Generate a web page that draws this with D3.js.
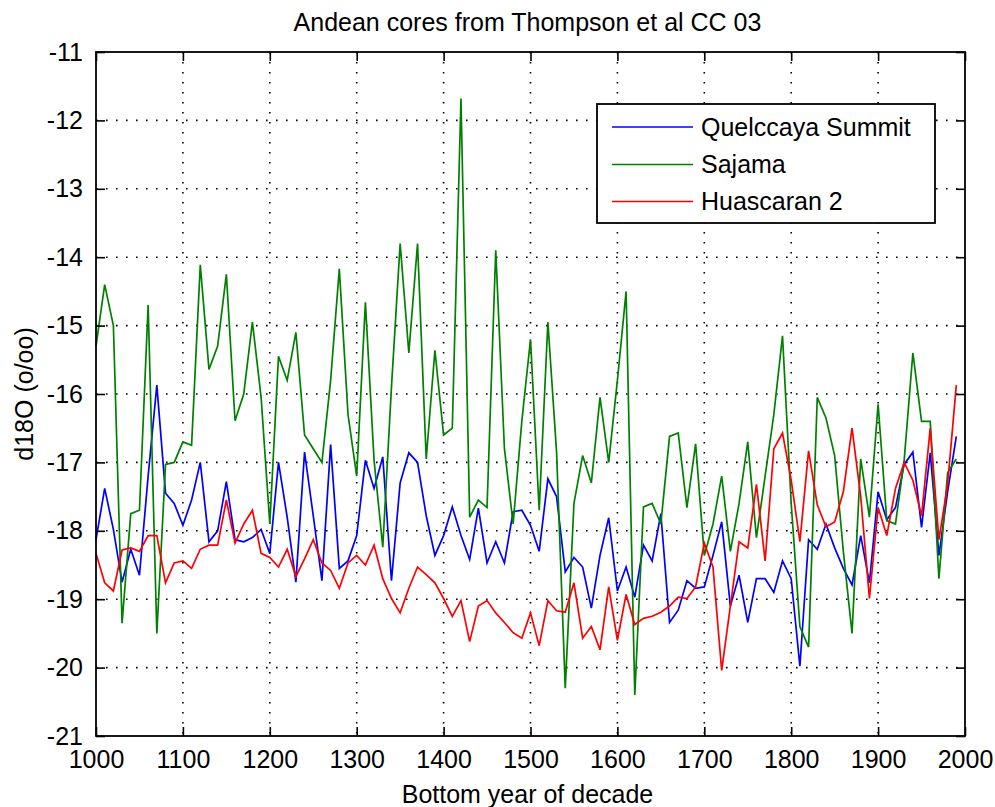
<!DOCTYPE html>
<html>
<head>
<meta charset="utf-8">
<script src="https://cdn.jsdelivr.net/npm/d3@7"></script>
<style>
  html, body { margin: 0; padding: 0; background: #ffffff; }
  svg { display: block; }
  text { font-family: "Liberation Sans", Arial, sans-serif; fill: #000; }
</style>
</head>
<body>
<svg id="chart" width="995" height="807"></svg>
<script>
// Decadal d18O records, one value per decade starting 1000 (bottom year of decade)
const startYear = 1000;
const decadeStep = 10;

const quelccaya = [
  -18.13, -17.38, -17.98, -18.75, -18.27, -18.65, -17.20, -15.87, -17.45, -17.60,
  -17.92, -17.55, -17.00, -18.16, -18.00, -17.28, -18.13, -18.16, -18.10, -17.98,
  -18.33, -17.00, -17.80, -18.75, -16.85, -17.78, -18.73, -16.74, -18.55, -18.44,
  -18.07, -16.97, -17.38, -16.92, -18.73, -17.30, -16.86, -17.00, -17.78, -18.36,
  -18.07, -17.65, -18.07, -18.42, -17.67, -18.47, -18.16, -18.47, -17.72, -17.70,
  -17.92, -18.30, -17.24, -17.50, -18.60, -18.39, -18.53, -19.13, -18.36, -17.81,
  -18.88, -18.53, -18.97, -18.21, -18.44, -17.75, -19.34, -19.16, -18.73, -18.84,
  -18.82, -18.36, -17.87, -19.10, -18.65, -19.34, -18.70, -18.70, -18.90, -18.44,
  -18.70, -19.98, -18.13, -18.27, -17.90, -18.25, -18.55, -18.79, -18.07, -18.76,
  -17.43, -17.84, -17.66, -17.03, -16.85, -17.95, -16.86, -18.36, -17.43, -16.62
];

const sajama = [
  -15.30, -14.40, -15.00, -19.35, -17.75, -17.70, -14.70, -19.50, -17.03, -17.00,
  -16.70, -16.75, -14.11, -15.64, -15.30, -14.25, -16.39, -16.00, -14.95, -16.05,
  -17.90, -15.45, -15.80, -15.10, -16.60, -16.80, -17.00, -15.80, -14.17, -16.30,
  -17.20, -14.66, -16.97, -18.24, -15.90, -13.80, -15.40, -13.80, -16.95, -15.36,
  -16.60, -16.50, -11.68, -17.80, -17.55, -17.66, -13.90, -16.80, -17.90, -16.40,
  -15.20, -17.70, -14.95, -16.85, -20.30, -17.60, -16.90, -17.30, -16.05, -17.00,
  -15.80, -14.50, -20.40, -17.65, -17.60, -17.90, -16.62, -16.57, -17.66, -16.73,
  -18.36, -17.90, -17.20, -18.30, -17.60, -16.70, -18.10, -17.20, -16.30, -15.15,
  -17.60, -19.40, -19.70, -16.05, -16.35, -16.90, -18.30, -19.50, -16.95, -17.80,
  -16.15, -17.85, -17.90, -16.97, -15.40, -16.40, -16.40, -18.70, -17.15, -16.95
];

const huascaran = [
  -18.33, -18.76, -18.88, -18.28, -18.25, -18.30, -18.07, -18.07, -18.76, -18.47,
  -18.44, -18.55, -18.27, -18.21, -18.21, -17.55, -18.18, -17.90, -17.70, -18.33,
  -18.39, -18.53, -18.27, -18.67, -18.41, -18.13, -18.47, -18.58, -18.84, -18.47,
  -18.36, -18.50, -18.21, -18.70, -18.99, -19.20, -18.84, -18.53, -18.64, -18.76,
  -18.99, -19.25, -19.02, -19.62, -19.10, -19.02, -19.20, -19.34, -19.49, -19.57,
  -19.20, -19.68, -19.02, -19.17, -19.19, -18.76, -19.57, -19.40, -19.74, -18.82,
  -19.60, -18.93, -19.37, -19.28, -19.25, -19.19, -19.10, -18.97, -18.99, -18.82,
  -18.18, -18.53, -20.04, -19.10, -18.16, -18.25, -17.32, -18.44, -16.80, -16.57,
  -17.26, -18.16, -16.83, -17.62, -17.94, -17.87, -17.43, -16.50, -17.50, -18.99,
  -17.66, -18.07, -17.38, -17.00, -17.26, -17.78, -16.50, -18.13, -17.32, -15.87
];

const seriesNames = ["Quelccaya Summit", "Sajama", "Huascaran 2"];
const seriesColors = ["#0000ff", "#008000", "#ff0000"];
const seriesValues = [quelccaya, sajama, huascaran];

const xTicks = [1000, 1100, 1200, 1300, 1400, 1500, 1600, 1700, 1800, 1900, 2000];
const yTicks = [-21, -20, -19, -18, -17, -16, -15, -14, -13, -12, -11];

const titleText = "Andean cores from Thompson et al CC 03";
const xLabelText = "Bottom year of decade";
const yLabelText = "d18O (o/oo)";

// Plot box
const plot = { left: 96, right: 965, top: 52, bottom: 736 };

const svg = d3.select("#chart");

const x = d3.scaleLinear().domain([1000, 2000]).range([plot.left, plot.right]);
const y = d3.scaleLinear().domain([-21, -11]).range([plot.bottom, plot.top]);

// Dotted grid
const grid = svg.append("g").attr("class", "grid")
  .attr("stroke", "#000").attr("stroke-width", 1.6)
  .attr("stroke-dasharray", "1.6,8.4");
grid.selectAll("line.v").data(xTicks.slice(1, -1)).join("line")
  .attr("x1", d => x(d)).attr("x2", d => x(d))
  .attr("y1", plot.top).attr("y2", plot.bottom);
grid.selectAll("line.h").data(yTicks.slice(1, -1)).join("line")
  .attr("y1", d => y(d)).attr("y2", d => y(d))
  .attr("x1", plot.left).attr("x2", plot.right);

// Data lines
const line = d3.line()
  .x((d, i) => x(startYear + i * decadeStep))
  .y(d => y(d));

svg.append("g").attr("class", "series")
  .selectAll("path").data(seriesValues).join("path")
  .attr("d", d => line(d))
  .attr("fill", "none")
  .attr("stroke", (d, i) => seriesColors[i])
  .attr("stroke-width", 1.7)
  .attr("stroke-linejoin", "miter");

// Axes with inward ticks on all four sides
const tickLen = 9;
const fontSize = 25;

const axBottom = d3.axisBottom(x).tickValues(xTicks).tickSize(-tickLen).tickPadding(14).tickFormat(d3.format("d"));
const axTop = d3.axisTop(x).tickValues(xTicks).tickSize(-tickLen).tickFormat("");
const axLeft = d3.axisLeft(y).tickValues(yTicks).tickSize(-tickLen).tickPadding(13).tickFormat(d => d3.format("d")(d).replace("\u2212", "-"));
const axRight = d3.axisRight(y).tickValues(yTicks).tickSize(-tickLen).tickFormat("");

function styleAxis(g) {
  g.select(".domain").remove();
  g.selectAll(".tick line").attr("stroke", "#000").attr("stroke-width", 1.6);
  g.selectAll(".tick text").attr("font-size", fontSize)
    .attr("font-family", "'Liberation Sans', Arial, sans-serif").attr("fill", "#000");
}

svg.append("g").attr("transform", `translate(0,${plot.bottom})`).call(axBottom).call(styleAxis);
svg.append("g").attr("transform", `translate(0,${plot.top})`).call(axTop).call(styleAxis);
svg.append("g").attr("transform", `translate(${plot.left},0)`).call(axLeft).call(styleAxis);
svg.append("g").attr("transform", `translate(${plot.right},0)`).call(axRight).call(styleAxis);

// Frame
svg.append("rect")
  .attr("x", plot.left).attr("y", plot.top)
  .attr("width", plot.right - plot.left).attr("height", plot.bottom - plot.top)
  .attr("fill", "none").attr("stroke", "#000").attr("stroke-width", 1.8);

// Title and axis labels
svg.append("text").attr("x", (plot.left + plot.right) / 2 - 3).attr("y", 31)
  .attr("text-anchor", "middle").attr("font-size", fontSize).text(titleText);
svg.append("text").attr("x", (plot.left + plot.right) / 2 - 3).attr("y", 803)
  .attr("text-anchor", "middle").attr("font-size", fontSize).text(xLabelText);
svg.append("text")
  .attr("transform", `translate(33,${(plot.top + plot.bottom) / 2}) rotate(-90)`)
  .attr("text-anchor", "middle").attr("font-size", fontSize).text(yLabelText);

// Legend
const legend = { x: 597, y: 104, w: 338, h: 119 };
const lg = svg.append("g").attr("class", "legend");
lg.append("rect").attr("x", legend.x).attr("y", legend.y)
  .attr("width", legend.w).attr("height", legend.h)
  .attr("fill", "#fff").attr("stroke", "#000").attr("stroke-width", 1.8);
const rowY = [127, 164.5, 201.5];
seriesNames.forEach((name, i) => {
  lg.append("line")
    .attr("x1", 612).attr("x2", 693).attr("y1", rowY[i]).attr("y2", rowY[i])
    .attr("stroke", seriesColors[i]).attr("stroke-width", 1.7);
  lg.append("text").attr("x", 701).attr("y", rowY[i])
    .attr("dy", "0.35em").attr("font-size", fontSize).text(name);
});
</script>
</body>
</html>
